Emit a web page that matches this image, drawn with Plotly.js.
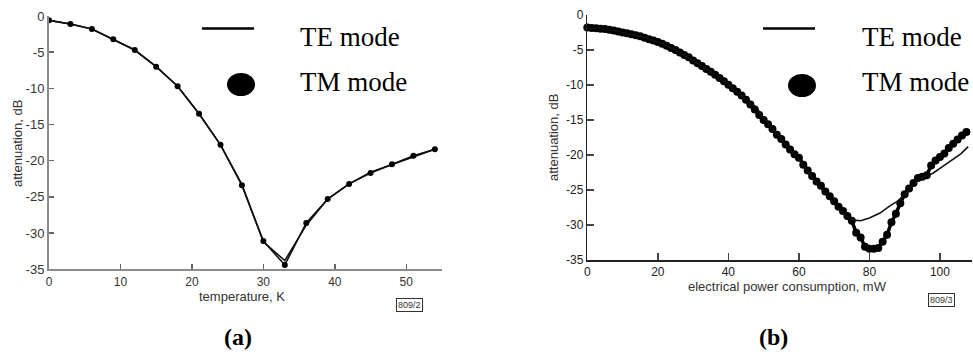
<!DOCTYPE html>
<html>
<head>
<meta charset="utf-8">
<script src="https://cdn.plot.ly/plotly-3.0.1.min.js"></script>
<style>html,body{margin:0;padding:0;background:#fff;}#chart{width:973px;height:360px;}</style>
</head>
<body>
<div id="chart"></div>
<script>
// ---- Panel (a): attenuation vs temperature ----
const tempK = [0, 3, 6, 9, 12, 15, 18, 21, 24, 27, 30, 33, 36, 39, 42, 45, 48, 51, 54];
const aTE = [-0.6, -1.1, -1.8, -3.2, -4.7, -7.0, -9.7, -13.5, -17.8, -23.3, -31.2, -33.8, -28.9, -25.3, -23.2, -21.6, -20.5, -19.4, -18.4];
const aTM = [-0.6, -1.1, -1.8, -3.2, -4.7, -7.0, -9.7, -13.5, -17.8, -23.4, -31.1, -34.4, -28.6, -25.3, -23.2, -21.7, -20.5, -19.3, -18.4];

// ---- Panel (b): attenuation vs electrical power ----
const powTM = [0, 1.25, 2.5, 3.75, 5, 6.25, 7.5, 8.75, 10, 11.25, 12.5, 13.75, 15, 16.25, 17.5, 18.75, 20, 21.25, 22.5, 23.75,
  25, 26.25, 27.5, 28.75, 30, 31.25, 32.5, 33.75, 35, 36.25, 37.5, 38.75, 40, 41.25, 42.5, 43.75, 45, 46.25, 47.5, 48.75,
  50, 51.25, 52.5, 53.75, 55, 56.25, 57.5, 58.75, 60, 61.25, 62.5, 63.75, 65, 66.25, 67.5, 68.75, 70, 71.25, 72.5, 73.75,
  75, 76.25, 77.5, 78.75, 80, 81.25, 82.5, 83.75, 85, 86.25, 87.5, 88.75, 90, 91.25, 92.5, 93.75, 95, 96.25, 97.5, 98.75,
  100, 101.25, 102.5, 103.75, 105, 106.25, 107.5];
const bTM = [-1.8, -1.85, -1.9, -1.95, -2.0, -2.1, -2.2, -2.35, -2.5, -2.6, -2.75, -2.9, -3.05, -3.25, -3.45, -3.65, -3.85, -4.1, -4.4, -4.7,
  -5.0, -5.35, -5.7, -6.05, -6.5, -6.9, -7.3, -7.7, -8.1, -8.55, -9.0, -9.45, -9.95, -10.45, -10.95, -11.5, -12.1, -12.8, -13.5, -14.3,
  -15.0, -15.6, -16.3, -17.1, -17.7, -18.5, -19.2, -19.9, -20.4, -21.4, -22.2, -23.0, -23.8, -24.4, -25.2, -25.9, -26.6, -27.4, -28.0, -28.7,
  -29.4, -31.1, -31.8, -33.1, -33.4, -33.4, -33.3, -32.4, -31.4, -29.6, -28.4, -26.9, -25.6, -24.8, -24.0, -23.3, -23.1, -22.9, -21.5, -20.8,
  -20.3, -19.8, -19.0, -18.4, -17.8, -17.2, -16.7];
const powTE = [0, 5, 10, 15, 20, 25, 30, 35, 40, 43, 45, 46.5, 48, 49.5, 52, 55, 58, 61, 64, 67, 70, 73, 75.5, 77.5, 80, 83, 86, 88, 90, 92, 94, 96, 98, 100, 102, 104, 106, 108];
const bTE = [-1.8, -2.0, -2.5, -3.05, -3.85, -5.0, -6.5, -8.1, -9.95, -11.3, -12.2, -12.7, -13.2, -14.4, -15.9, -17.7, -19.5, -21.3, -23.4, -25.2, -27.0, -28.6, -29.3, -29.4, -29.0, -28.3, -27.2, -26.6, -25.6, -24.5, -23.5, -23.0, -22.6, -21.9, -21.2, -20.5, -19.8, -18.8];

// ---- Tick labels ----
const yTickVals = [0, -5, -10, -15, -20, -25, -30, -35];
const yTickText = ["0", "-5", "-10", "-15", "-20", "-25", "-30", "-35"];
const xTickA = [0, 10, 20, 30, 40, 50];
const xTickB = [0, 20, 40, 60, 80, 100];
const legendNames = ["TE mode", "TM mode"];

const W = 973, H = 360;
const px = v => v / W;
const py = v => 1 - v / H;

const traces = [
  {x: tempK, y: aTE, xaxis: 'x', yaxis: 'y', mode: 'lines', name: legendNames[0],
   line: {color: '#111', width: 1.6}, showlegend: false},
  {x: tempK, y: aTM, xaxis: 'x', yaxis: 'y', mode: 'lines+markers', name: legendNames[1],
   line: {color: '#111', width: 1.6}, marker: {color: '#000', size: 6}, showlegend: false},
  {x: powTM, y: bTM, xaxis: 'x2', yaxis: 'y2', mode: 'lines+markers', name: legendNames[1],
   line: {color: '#000', width: 3.5}, marker: {color: '#000', size: 8}, showlegend: false, cliponaxis: false},
  {x: powTE, y: bTE, xaxis: 'x2', yaxis: 'y2', mode: 'lines', name: legendNames[0],
   line: {color: '#111', width: 1.6}, showlegend: false}
];

const tickFontA = {family: 'Liberation Sans, Arial, sans-serif', size: 13, color: '#333'};
const tickFontAx = {family: 'Liberation Sans, Arial, sans-serif', size: 12, color: '#333'};
const tickFontB = {family: 'Liberation Sans, Arial, sans-serif', size: 12, color: '#222'};
const axA = {showgrid: false, zeroline: false, showline: true, linecolor: '#8c8c8c', linewidth: 2,
  ticks: 'inside', ticklen: 5, tickcolor: '#666', tickwidth: 1.5, tickfont: tickFontA, fixedrange: true};
const axB = {showgrid: false, zeroline: false, showline: true, linecolor: '#222', linewidth: 1.5,
  ticks: 'inside', ticklen: 7, tickcolor: '#444', tickwidth: 1.5, tickfont: tickFontB, fixedrange: true};

const serif = 'Liberation Serif, Times New Roman, serif';
const sans = 'Liberation Sans, Arial, sans-serif';

function ann(x, y, text, opts) {
  return Object.assign({xref: 'paper', yref: 'paper', x: px(x), y: py(y), text: text, showarrow: false,
    xanchor: 'center', yanchor: 'middle'}, opts || {});
}

const layout = {
  width: W, height: H,
  margin: {l: 0, r: 0, t: 0, b: 0},
  paper_bgcolor: '#fff', plot_bgcolor: 'rgba(0,0,0,0)',
  showlegend: false,
  xaxis: Object.assign({}, axA, {domain: [px(49), px(442)], range: [0, 55], tickvals: xTickA, tickfont: tickFontAx, anchor: 'y'}),
  yaxis: Object.assign({}, axA, {domain: [py(269.3), py(16)], range: [-35, 0], tickvals: yTickVals, ticktext: yTickText, anchor: 'x'}),
  xaxis2: Object.assign({}, axB, {domain: [px(587.3), px(971.7)], range: [0, 109], tickvals: xTickB, anchor: 'y2'}),
  yaxis2: Object.assign({}, axB, {domain: [py(260), py(15)], range: [-35, 0], tickvals: yTickVals, ticktext: yTickText, anchor: 'x2'}),
  shapes: [
    {type: 'line', xref: 'paper', yref: 'paper', x0: px(202), x1: px(254), y0: py(28.5), y1: py(28.5), line: {color: '#000', width: 2.5}},
    {type: 'circle', xref: 'paper', yref: 'paper', x0: px(227), x1: px(255), y0: py(73), y1: py(96), fillcolor: '#000', line: {color: '#000', width: 0}},
    {type: 'line', xref: 'paper', yref: 'paper', x0: px(763), x1: px(815), y0: py(28.5), y1: py(28.5), line: {color: '#000', width: 2.5}},
    {type: 'circle', xref: 'paper', yref: 'paper', x0: px(788), x1: px(816), y0: py(74), y1: py(97), fillcolor: '#000', line: {color: '#000', width: 0}}
  ],
  annotations: [
    ann(298, 37, legendNames[0], {xanchor: 'left', font: {family: serif, size: 27, color: '#000'}}),
    ann(298, 82, legendNames[1], {xanchor: 'left', font: {family: serif, size: 27, color: '#000'}}),
    ann(860, 37, legendNames[0], {xanchor: 'left', font: {family: serif, size: 27, color: '#000'}}),
    ann(860, 82, legendNames[1], {xanchor: 'left', font: {family: serif, size: 27, color: '#000'}}),
    ann(242, 296, 'temperature, K', {font: {family: sans, size: 13, color: '#333'}}),
    ann(17, 144, 'attenuation, dB', {textangle: -90, font: {family: sans, size: 13, color: '#333'}}),
    ann(787, 286, 'electrical power consumption, mW', {font: {family: sans, size: 13, color: '#333'}}),
    ann(553, 138, 'attenuation, dB', {textangle: -90, font: {family: sans, size: 13, color: '#333'}}),
    ann(409.5, 305, '809/2', {font: {family: sans, size: 9, color: '#333'}, bordercolor: '#333', borderwidth: 1, borderpad: 1}),
    ann(941.5, 300, '809/3', {font: {family: sans, size: 9, color: '#333'}, bordercolor: '#333', borderwidth: 1, borderpad: 1}),
    ann(238, 337, '<b>(a)</b>', {font: {family: serif, size: 24, color: '#000'}}),
    ann(773, 337, '<b>(b)</b>', {font: {family: serif, size: 24, color: '#000'}})
  ]
};

Plotly.newPlot('chart', traces, layout, {displayModeBar: false, staticPlot: true});
</script>
</body>
</html>
